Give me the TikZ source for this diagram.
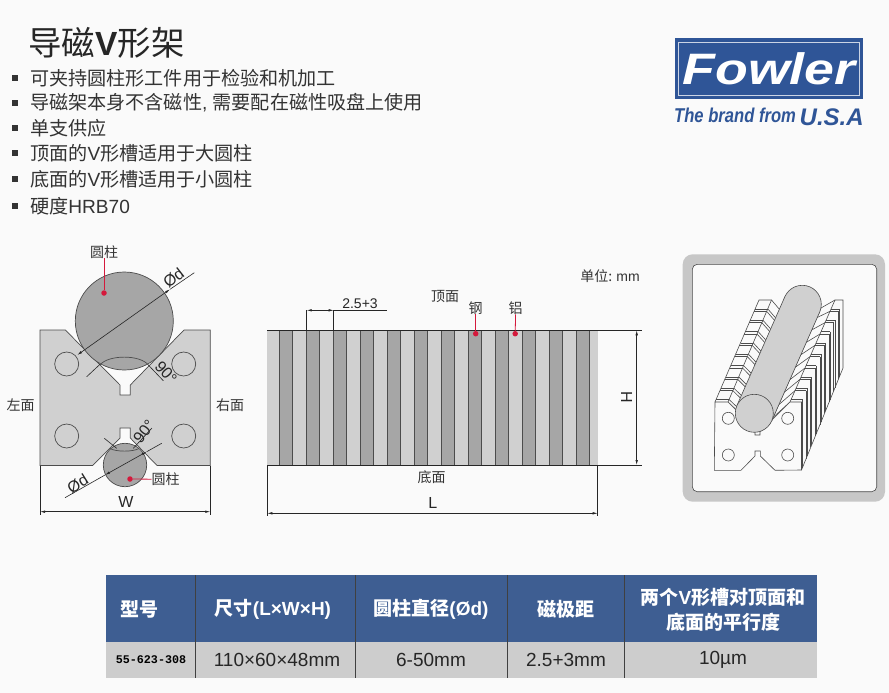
\documentclass[tikz,border=0pt]{standalone}
\usepackage{fontspec}
\setmainfont{Liberation Sans}
\setmonofont{Liberation Mono}
\newfontfamily\cjk{Noto Sans CJK SC}
\usetikzlibrary{arrows.meta, calc}
\newcommand{\zh}[1]{{\cjk #1}}
\newcommand{\px}[1]{\fontsize{#1}{#1}\selectfont}
\definecolor{bluebar}{HTML}{3E5E92}
\definecolor{logoblue}{HTML}{2F5597}
\definecolor{lightpart}{HTML}{D0D0D0}
\definecolor{darkpart}{HTML}{A6A6A6}
\definecolor{rowgray}{HTML}{CDCDCD}
\definecolor{leadred}{HTML}{D4193C}
\definecolor{inktext}{HTML}{333333}
\tikzset{
    dimline/.style={draw=black!85, line width=0.6pt},
    dimarrow/.style={dimline, {Latex[length=5pt,width=2.5pt]}-{Latex[length=5pt,width=2.5pt]}},
    partline/.style={draw=black!70, line width=0.7pt},
    isoline/.style={draw=black!70, line width=0.6pt},
    note/.style={inner sep=0pt, text=inktext, font=\px{14}\cjk},
    dimtext/.style={inner sep=0pt, text=black!85, font=\px{14}},
    bigdim/.style={inner sep=0pt, text=black!85, font=\px{16}},
    bullet/.style={fill=black!80, minimum size=6pt, inner sep=0pt},
    itemtext/.style={anchor=west, inner sep=0pt, text=inktext, font=\px{19.1}},
    headtext/.style={inner sep=0pt, text=white, font=\px{19}\bfseries},
    rowtext/.style={inner sep=0pt, text=black!85, font=\px{19}},
    leader/.style={draw=leadred, line width=0.8pt},
    reddot/.style={circle, fill=leadred, minimum size=5.5pt, inner sep=0pt}
}
\begin{document}
\begin{tikzpicture}[x=1pt, y=-1pt]
    \useasboundingbox (0,0) rectangle (889,693);
    \fill[white!98!black] (0,0) rectangle (889,693);

    % Title and list
    \node[anchor=west, inner sep=0pt, text=black!85, font=\px{33.5}] (title) at (28,43) {\zh{导磁}\textbf{V}\zh{形架}};
    \foreach \i/\y/\txt in {1/78/{\zh{可夹持圆柱形工件用于检验和机加工}},
        2/103/{\zh{导磁架本身不含磁性}, \zh{需要配在磁性吸盘上使用}},
        3/128/{\zh{单支供应}},
        4/153/{\zh{顶面的}V\zh{形槽适用于大圆柱}},
        5/179/{\zh{底面的}V\zh{形槽适用于小圆柱}},
        6/206/{\zh{硬度}HRB70}} {
        \node[bullet] (mark\i) at (14.5,\y) {};
        \node[itemtext] (item\i) at (30,\y) {\txt};
    }

    % Logo
    \fill[logoblue] (675,38.5) rectangle (862.5,98.5);
    \draw[white!75!logoblue, line width=0.7pt] (678.5,42) rectangle (859,95);
    \node[inner sep=0pt, text=white, font=\px{44}\bfseries\itshape, xscale=1.22] (fowler) at (769,68.5) {Fowler};
    \node[anchor=west, inner sep=0pt, text=logoblue, font=\px{20}\bfseries\itshape, xscale=0.83] (brand) at (674,115.5) {The brand from};
    \node[anchor=west, inner sep=0pt, text=logoblue, font=\px{24}\bfseries\itshape] (usa) at (799.5,117) {U.S.A};

    % End view
    \fill[lightpart] (40,330) -- (65.3,330) -- (120,385) -- (120,395) -- (130.3,395) -- (130.3,385) -- (184,330) -- (210.3,330)
        -- (210.3,465.5) -- (157,465.5) -- (130.3,438) -- (130.3,428) -- (120,428) -- (120,438) -- (92.7,465.5) -- (40,465.5) -- cycle;
    \draw[partline] (40,330) -- (65.3,330) -- (120,385) -- (120,395) -- (130.3,395) -- (130.3,385) -- (184,330) -- (210.3,330)
        -- (210.3,465.5) -- (157,465.5) -- (130.3,438) -- (130.3,428) -- (120,428) -- (120,438) -- (92.7,465.5) -- (40,465.5) -- cycle;
    \foreach \x/\y in {66.7/364, 183.7/364, 66.7/436, 183.7/436}
        \draw[partline] (\x,\y) circle (12);
    \filldraw[fill=darkpart, partline] (124.3,321) circle (49);
    \filldraw[fill=darkpart, partline] (125,465) circle (21.7);
    \draw[partline] (100,365) .. controls (108,354.5) and (140.5,354.5) .. (148.3,365);
    \draw[partline] (110,448.5) .. controls (116,452) and (133,452) .. (139,448.5);

    \coordinate (topa) at (77.3,355);
    \coordinate (topb) at (170,289.3);
    \coordinate (topc) at (194.3,272.7);
    \draw[dimarrow] (topa) -- (topb);
    \draw[dimline] (topb) -- (topc);
    \coordinate (bota) at (65,497.7);
    \coordinate (botb) at (105,475);
    \coordinate (botc) at (146.7,451.7);
    \coordinate (botd) at (161.7,443.3);
    \draw[dimarrow] (botb) -- (botc);
    \draw[dimline] (bota) -- (botb);
    \draw[dimline] (botc) -- (botd);
    \draw[dimline] (86.7,376.7) -- (100,364.3);
    \draw[dimline] (148.3,365) -- (163.3,380.7);
    \draw[dimline] (104.3,438.3) -- (116.7,448.3);
    \draw[dimline] (133.3,448.3) -- (152,428);

    \node[bigdim, rotate=38] (dtop) at (173.5,278) {Ød};
    \node[bigdim, rotate=32] (dbot) at (77.7,484) {Ød};
    \node[bigdim, rotate=-48] (angtop) at (166,372.5) {90°};
    \node[bigdim, rotate=52] (angbot) at (144,431.5) {90°};

    \coordinate (wa) at (40,511.7);
    \coordinate (wb) at (210.3,511.7);
    \draw[dimarrow] (wa) -- (wb);
    \draw[dimline] (40,465.5) -- (40,515);
    \draw[dimline] (210.3,465.5) -- (210.3,515);
    \node[bigdim] (wlabel) at (126,501.5) {W};

    \node[note] (cyltop) at (104,251.7) {圆柱};
    \node[reddot] (dotcyltop) at (104,293) {};
    \draw[leader] (cyltop) -- (dotcyltop);
    \node[note] (cylbot) at (165.7,479.3) {圆柱};
    \node[reddot] (dotcylbot) at (130,479) {};
    \draw[leader] (cylbot) -- (dotcylbot);
    \node[note] (leftface) at (20.7,405) {左面};
    \node[note] (rightface) at (230,405) {右面};

    % Side view
    \fill[lightpart] (267.3,330.3) rectangle (597.7,465);
    \foreach \i [evaluate=\i as \x using 279.3+27*\i] in {0,...,11}
        \filldraw[fill=darkpart, partline] (\x,330.3) rectangle (\x+13.3,465);
    \draw[dimline] (267.3,330.3) -- (641.7,330.3);
    \draw[dimline] (267.3,465) -- (641.7,465);

    \coordinate (ha) at (636.7,330.3);
    \coordinate (hb) at (636.7,465);
    \draw[dimarrow] (ha) -- (hb);
    \node[bigdim, rotate=-90] (hlabel) at (626.7,397) {H};
    \coordinate (la) at (267.3,513.3);
    \coordinate (lb) at (597.7,513.3);
    \draw[dimarrow] (la) -- (lb);
    \draw[dimline] (267.3,465) -- (267.3,516);
    \draw[dimline] (597.7,465) -- (597.7,516);
    \node[bigdim] (llabel) at (432.7,503.3) {L};

    \coordinate (pa) at (306.7,310.3);
    \coordinate (pb) at (333.7,310.3);
    \coordinate (pc) at (386.7,310.3);
    \draw[dimarrow] (pa) -- (pb);
    \draw[dimline] (pb) -- (pc);
    \draw[dimline] (306.7,310.3) -- (306.7,330.3);
    \draw[dimline] (333.7,310.3) -- (333.7,330.3);
    \node[dimtext] (pitch) at (360,304) {2.5+3};

    \node[note] (topface) at (445,296) {顶面};
    \node[note] (botface) at (431.7,477.3) {底面};
    \node[note] (steel) at (475.7,307.7) {钢};
    \node[note] (alu) at (515.7,307.7) {铝};
    \node[reddot] (dotsteel) at (475.7,333.7) {};
    \node[reddot] (dotalu) at (515.2,333.7) {};
    \draw[leader] (steel) -- (dotsteel);
    \draw[leader] (alu) -- (dotalu);
    \node[note] (unit) at (610,275.7) {单位: {\rmfamily mm}};

    % Picture panel
    \fill[black!22, rounded corners=10pt] (682.7,254.3) rectangle (885,501.7);
    \filldraw[fill=white!98!black, draw=black!70, line width=0.6pt, rounded corners=5pt] (692.3,264.3) rectangle (876.7,491.7);

    \coordinate (na) at (715,402);   \coordinate (nab) at (759,300);
    \coordinate (nb) at (728,402);   \coordinate (nbb) at (771.5,300);
    \coordinate (nc) at (736.5,410); \coordinate (ncb) at (780,310);
    \coordinate (ra) at (790,402);   \coordinate (rab) at (835,300);
    \coordinate (rb) at (801.5,402); \coordinate (rbb) at (843,300);
    \coordinate (rc) at (772,420);   \coordinate (rcb) at (821,308);
    \coordinate (rd) at (801.5,470); \coordinate (rdb) at (843,368);

    % side teeth and top faces
    \foreach \i [evaluate=\i as \t using \i/9, evaluate=\i as \u using (\i+0.22)/9] in {0,...,8} {
        \draw[isoline] ($(rb)!\t!(rbb)$) -- ($(rd)!\t!(rdb)$);
        \draw[isoline] ($(rb)!\u!(rbb)$) -- ($(rd)!\u!(rdb)$);
        \draw[isoline] ($(na)!\t!(nab)$) -- ($(nb)!\t!(nbb)$);
        \draw[isoline] ($(na)!\u!(nab)$) -- ($(nb)!\u!(nbb)$);
        \draw[isoline] ($(nb)!\t!(nbb)$) -- ($(nc)!\t!(ncb)$);
        \draw[isoline] ($(nb)!\u!(nbb)$) -- ($(nc)!\u!(ncb)$);
        \draw[isoline] ($(ra)!\t!(rab)$) -- ($(rb)!\t!(rbb)$);
        \draw[isoline] ($(ra)!\u!(rab)$) -- ($(rb)!\u!(rbb)$);
        \draw[isoline] ($(ra)!\t!(rab)$) -- ($(rc)!\u!(rcb)$);
    }
    \draw[isoline] (na) -- (nab) -- (nbb) -- (nb);
    \draw[isoline] (nbb) -- (ncb) -- (nc);
    \draw[isoline] (ra) -- (rab) -- (rbb) -- (rdb) -- (rd);
    \draw[isoline] (rc) -- (rcb) -- (rab);

    % front face
    \filldraw[fill=white!98!black, isoline] (na) -- (nb) -- (755,429) -- (755,435) -- (760,435) -- (760,432) -- (ra) -- (rb) -- (rd)
        -- (775,470.3) -- (760.3,456) -- (760.3,451) -- (755,451) -- (755,456) -- (741,470.3) -- (714.3,470.3) -- cycle;
    \foreach \x/\y in {728.3/418.3, 787.7/418.3, 728.3/455, 787.7/455}
        \draw[isoline] (\x,\y) circle (6);

    % round bar
    \coordinate (barfront) at (754.3,413.3);
    \coordinate (barback) at (802.3,304.3);
    \filldraw[fill=lightpart, isoline] (barback) circle (19);
    \fill[lightpart] ($(barfront)+(17.4,7.7)$) -- ($(barback)+(17.4,7.7)$) -- ($(barback)+(-17.4,-7.7)$) -- ($(barfront)+(-17.4,-7.7)$) -- cycle;
    \draw[isoline] ($(barfront)+(17.4,7.7)$) -- ($(barback)+(17.4,7.7)$);
    \draw[isoline] ($(barfront)+(-17.4,-7.7)$) -- ($(barback)+(-17.4,-7.7)$);
    \filldraw[fill=lightpart, isoline] (barfront) circle (19);

    % Table
    \fill[bluebar] (106,575) rectangle (817,642);
    \fill[rowgray] (106,642) rectangle (817,678);
    \foreach \x in {195,355,507,624}
        \draw[black!75, line width=0.8pt] (\x,575) -- (\x,678);

    \node[headtext] (hmodel) at (139,609) {\zh{型号}};
    \node[headtext] (hsize) at (273,609) {\zh{尺寸}(L×W×H)};
    \node[headtext] (hdia) at (431,609) {\zh{圆柱直径}(Ød)};
    \node[headtext] (hpole) at (566,609) {\zh{磁极距}};
    \node[headtext] (hpar) at (723,597) {\zh{两个}V\zh{形槽对顶面和}};
    \node[headtext] (hpar2) at (723,622) {\zh{底面的平行度}};
    \node[inner sep=0pt, text=black, font=\px{11.7}\ttfamily\bfseries] (vmodel) at (151,660) {55-623-308};
    \node[rowtext] (vsize) at (277,660) {110×60×48mm};
    \node[rowtext] (vdia) at (431,660) {6-50mm};
    \node[rowtext] (vpole) at (566,660) {2.5+3mm};
    \node[rowtext] (vpar) at (723,660) {10µm};
\end{tikzpicture}
\end{document}
